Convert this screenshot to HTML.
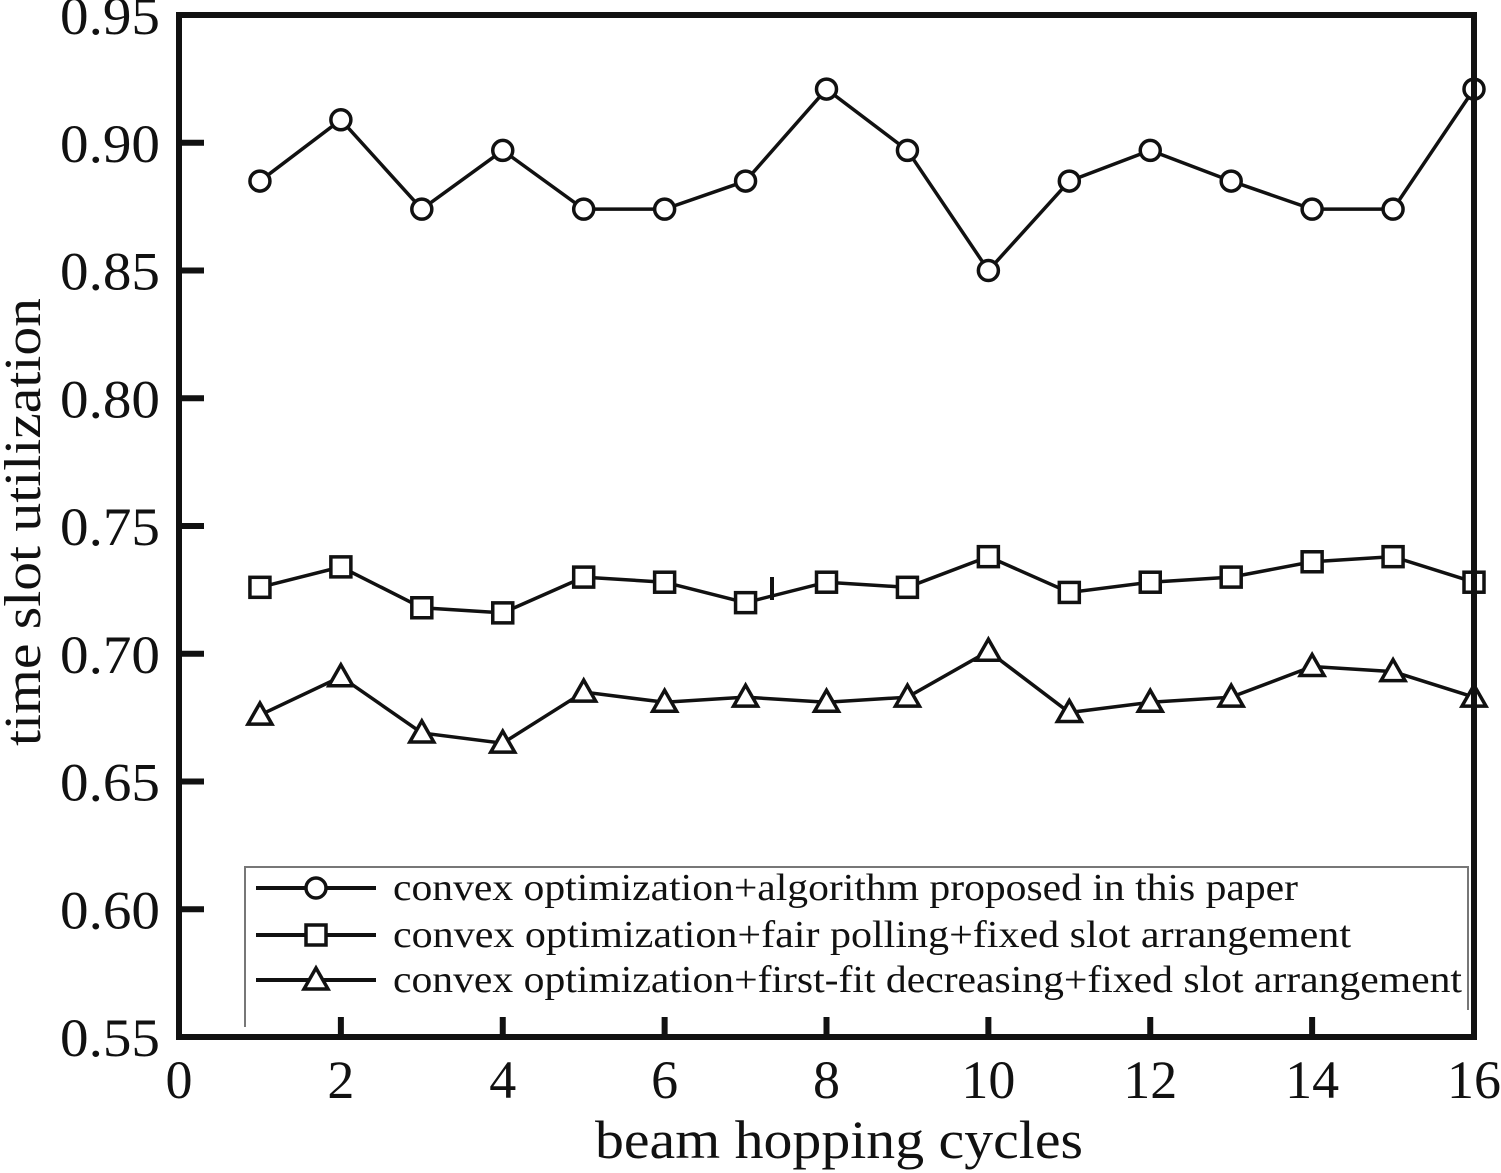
<!DOCTYPE html>
<html><head><meta charset="utf-8"><style>
body{margin:0;background:#fff;}
svg{display:block;font-family:"Liberation Serif",serif;}
</style></head><body>
<svg id="chart" width="1501" height="1173" viewBox="0 0 1501 1173" xmlns="http://www.w3.org/2000/svg">
<g id="grid"></g>
<g id="series"></g>
<g id="axes"></g>
</svg>
<script>
const xTicks=[0,2,4,6,8,10,12,14,16];
const yTicks=[0.55,0.60,0.65,0.70,0.75,0.80,0.85,0.90,0.95];
const yTickLabels=["0.55","0.60","0.65","0.70","0.75","0.80","0.85","0.90","0.95"];
const cycles=[1,2,3,4,5,6,7,8,9,10,11,12,13,14,15,16];
const proposed=[0.885,0.909,0.874,0.897,0.874,0.874,0.885,0.921,0.897,0.850,0.885,0.897,0.885,0.874,0.874,0.921];
const fairPolling=[0.726,0.734,0.718,0.716,0.730,0.728,0.720,0.728,0.726,0.738,0.724,0.728,0.730,0.736,0.738,0.728];
const firstFit=[0.676,0.691,0.669,0.665,0.685,0.681,0.683,0.681,0.683,0.701,0.677,0.681,0.683,0.695,0.693,0.683];
const legendLabels=["convex optimization+algorithm proposed in this paper","convex optimization+fair polling+fixed slot  arrangement","convex optimization+first-fit decreasing+fixed slot arrangement"];
const legendWidths=[905,958,1069];

const L=179,R=1474,T=15,B=1037;
const xs=v=>L+(v-0)/(16-0)*(R-L);
const ys=v=>B-(v-0.55)/(0.95-0.55)*(B-T);
const NS="http://www.w3.org/2000/svg";
function mk(tag,attrs,parent){const e=document.createElementNS(NS,tag);for(const k in attrs)e.setAttribute(k,attrs[k]);parent.appendChild(e);return e;}
const ser=document.getElementById('series'),ax=document.getElementById('axes');

function marker(type,x,y,g){
  let m;
  if(type==='circle') m=mk('circle',{cx:x,cy:y,r:10,fill:'#fff',stroke:'#111','stroke-width':3.5},g);
  else if(type==='square') m=mk('rect',{x:x-10,y:y-10,width:20,height:20,fill:'#fff',stroke:'#111','stroke-width':3.5},g);
  else m=mk('polygon',{points:`${x},${y-12} ${x-12},${y+9} ${x+12},${y+9}`,fill:'#fff',stroke:'#111','stroke-width':3.5},g);
  return m;
}
function drawSeries(vals,type,name){
  const g=mk('g',{},ser);
  
  
  const pts=vals.map((v,i)=>xs(cycles[i])+','+ys(v)).join(' ');
  const pl=mk('polyline',{points:pts,fill:'none',stroke:'#111','stroke-width':3.5},g);
  
  
  vals.forEach((v,i)=>{const m=marker(type,xs(cycles[i]),ys(v),g);
    
    });
}
drawSeries(proposed,'circle','series-proposed');
drawSeries(fairPolling,'square','series-fair-polling');
drawSeries(firstFit,'triangle','series-first-fit');

mk('line',{x1:772,y1:577,x2:772,y2:600,stroke:'#111','stroke-width':4},ser);

const fr=mk('rect',{x:L,y:T,width:R-L,height:B-T,fill:'none',stroke:'#111','stroke-width':6},ax);


xTicks.forEach(t=>{
  const x=xs(t);
  if(t>0&&t<16) mk('line',{x1:x,y1:B,x2:x,y2:B-20,stroke:'#111','stroke-width':6},ax);
  const tx=mk('text',{x:x,y:1098,'text-anchor':'middle','font-size':54,fill:'#111'},ax);
  tx.textContent=t;
  
  
});
yTicks.forEach((t,i)=>{
  const y=ys(t);
  if(i>0&&i<yTicks.length-1) mk('line',{x1:L,y1:y,x2:L+25,y2:y,stroke:'#111','stroke-width':6},ax);
  const tx=mk('text',{x:60,y:y+19,'font-size':54,fill:'#111',textLength:100,lengthAdjust:'spacingAndGlyphs'},ax);
  tx.textContent=yTickLabels[i];
  
  
});
const xt=mk('text',{x:595,y:1158,'font-size':54,fill:'#111',textLength:488,lengthAdjust:'spacingAndGlyphs'},ax);
xt.textContent='beam hopping cycles';


const yt=mk('text',{x:0,y:0,'font-size':52,fill:'#111',transform:'translate(40,746) rotate(-90)',textLength:448,lengthAdjust:'spacingAndGlyphs'},ax);
yt.textContent='time slot utilization';



const lg=mk('g',{},ax);


mk('polyline',{points:'245,1027 245,867 1468,867 1468,1010',fill:'none',stroke:'#777','stroke-width':2},lg);
const types=['circle','square','triangle'];
[888,935,980].forEach((y,i)=>{
  const e=mk('g',{},lg);
  
  
  mk('line',{x1:256,y1:y,x2:376,y2:y,stroke:'#111','stroke-width':4},e);
  marker(types[i],316,y,e);
  const tx=mk('text',{x:393,y:y+12,'font-size':38,fill:'#111',textLength:legendWidths[i],lengthAdjust:'spacingAndGlyphs'},e);
  tx.textContent=legendLabels[i];
});
</script>
</body></html>
